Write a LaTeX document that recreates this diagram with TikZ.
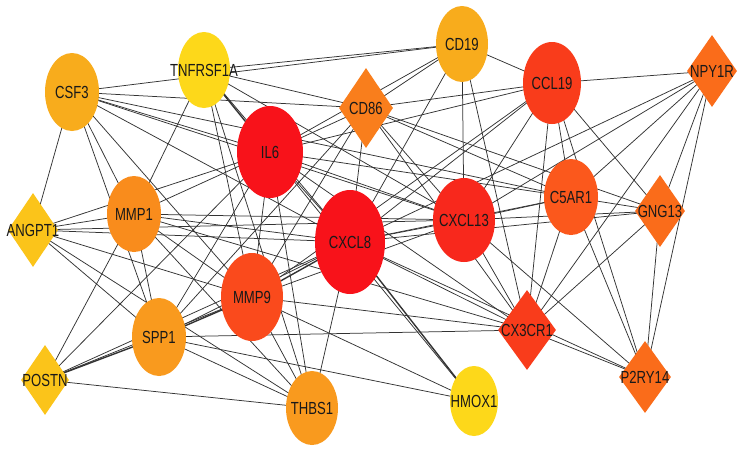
\documentclass[tikz,border=0pt]{standalone}
\usepackage{fontspec}
\setmainfont[FakeStretch=0.75]{Liberation Sans}
\usetikzlibrary{shapes.geometric}
\pgfdeclarelayer{background}
\pgfsetlayers{background,main}
\definecolor{cRed}{HTML}{F8121A}
\definecolor{cRedB}{HTML}{F8281C}
\definecolor{cRedO}{HTML}{F93C1B}
\definecolor{cOrA}{HTML}{FA4A1C}
\definecolor{cOrB}{HTML}{FB581C}
\definecolor{cOrC}{HTML}{FA6C1A}
\definecolor{cOrD}{HTML}{F97E1C}
\definecolor{cOrE}{HTML}{F98C1C}
\definecolor{cOrF}{HTML}{F99A1E}
\definecolor{cOrG}{HTML}{F8AC1C}
\definecolor{cYelA}{HTML}{FBC41A}
\definecolor{cYelB}{HTML}{FDD81A}
\tikzset{
  gene/.style={ellipse,inner sep=0pt,draw=none},
  rhomb/.style={diamond,inner sep=0pt,draw=none},
  txt/.style={font=\fontsize{17.5}{17.5}\selectfont, text=black!90},
  edge/.style={draw=black!80,line width=0.75pt},
  thickedge/.style={draw=black!80,line width=1.4pt}
}
\begin{document}
\begin{tikzpicture}[x=1pt,y=-1pt]
\useasboundingbox (0,0) rectangle (742,450);
% nodes
\node[gene,fill=cOrG,minimum width=54,minimum height=78] (CSF3) at (72,92) {};
\node[gene,fill=cYelB,minimum width=52,minimum height=76] (TNF) at (204,70) {};
\node[gene,fill=cRed,minimum width=66,minimum height=92] (IL6) at (270,152) {};
\node[rhomb,fill=cOrD,minimum width=54,minimum height=80] (CD86) at (366,108) {};
\node[gene,fill=cOrG,minimum width=52,minimum height=76] (CD19) at (462,44) {};
\node[gene,fill=cRedO,minimum width=58,minimum height=82] (CCL19) at (552,83) {};
\node[rhomb,fill=cOrC,minimum width=50,minimum height=72] (NPY1R) at (712,71) {};
\node[gene,fill=cOrE,minimum width=54,minimum height=76] (MMP1) at (134,214) {};
\node[rhomb,fill=cYelA,minimum width=50,minimum height=74] (ANGPT1) at (33,230) {};
\node[gene,fill=cOrB,minimum width=54,minimum height=76] (C5AR1) at (571,197) {};
\node[rhomb,fill=cOrC,minimum width=50,minimum height=72] (GNG13) at (660,211) {};
\node[gene,fill=cRedB,minimum width=62,minimum height=84] (CXCL13) at (464,220) {};
\node[gene,fill=cRed,minimum width=70,minimum height=104] (CXCL8) at (350,242) {};
\node[gene,fill=cOrA,minimum width=62,minimum height=88] (MMP9) at (252,297) {};
\node[gene,fill=cOrF,minimum width=54,minimum height=78] (SPP1) at (159,337) {};
\node[rhomb,fill=cYelA,minimum width=48,minimum height=70] (POSTN) at (45,380) {};
\node[gene,fill=cOrF,minimum width=52,minimum height=74] (THBS1) at (312,408) {};
\node[gene,fill=cYelB,minimum width=48,minimum height=70] (HMOX1) at (474,401) {};
\node[rhomb,fill=cRedO,minimum width=58,minimum height=80] (CX3CR1) at (527,330) {};
\node[rhomb,fill=cOrC,minimum width=52,minimum height=72] (P2RY14) at (645,377) {};
% labels
\foreach \n/\t in {CSF3/CSF3,TNF/TNFRSF1A,IL6/IL6,CD86/CD86,CD19/CD19,CCL19/CCL19,NPY1R/NPY1R,MMP1/MMP1,ANGPT1/ANGPT1,C5AR1/C5AR1,GNG13/GNG13,CXCL13/CXCL13,CXCL8/CXCL8,MMP9/MMP9,SPP1/SPP1,POSTN/POSTN,THBS1/THBS1,HMOX1/HMOX1,CX3CR1/CX3CR1,P2RY14/P2RY14}
  \node[txt] (l\n) at (\n.center) {\t};
% edges
\begin{pgfonlayer}{background}
\fill[white] (0,0) rectangle (742,450);
\foreach \a/\b in {
CSF3/CD19,CSF3/CD86,CSF3/IL6,CSF3/CXCL8,CSF3/CXCL13,CSF3/MMP9,CSF3/SPP1,CSF3/MMP1,CSF3/ANGPT1,CSF3/C5AR1,
TNF/CD19,TNF/CD86,TNF/CXCL8,TNF/MMP1,TNF/MMP9,TNF/CXCL13,TNF/THBS1,
IL6/CD86,IL6/CD19,IL6/CCL19,IL6/CXCL13,IL6/C5AR1,IL6/CXCL8,IL6/MMP9,IL6/MMP1,IL6/ANGPT1,IL6/SPP1,IL6/THBS1,IL6/HMOX1,IL6/CX3CR1,IL6/POSTN,
CXCL8/CD86,CXCL8/CD19,CXCL8/CCL19,CXCL8/CXCL13,CXCL8/C5AR1,CXCL8/GNG13,CXCL8/CX3CR1,CXCL8/P2RY14,CXCL8/THBS1,CXCL8/SPP1,CXCL8/MMP1,CXCL8/ANGPT1,CXCL8/POSTN,CXCL8/NPY1R,
CXCL13/CD19,CXCL13/CD86,CXCL13/CCL19,CXCL13/C5AR1,CXCL13/GNG13,CXCL13/CX3CR1,CXCL13/P2RY14,CXCL13/NPY1R,CXCL13/MMP9,CXCL13/MMP1,CXCL13/ANGPT1,
MMP9/MMP1,MMP9/ANGPT1,MMP9/THBS1,MMP9/HMOX1,MMP9/CX3CR1,MMP9/POSTN,MMP9/CD86,MMP9/CCL19,
SPP1/MMP1,SPP1/ANGPT1,SPP1/THBS1,SPP1/CX3CR1,SPP1/CD86,SPP1/HMOX1,
POSTN/THBS1,POSTN/MMP1,THBS1/MMP1,THBS1/ANGPT1,
CX3CR1/CCL19,CX3CR1/C5AR1,CX3CR1/GNG13,CX3CR1/NPY1R,CX3CR1/P2RY14,CX3CR1/CD86,CX3CR1/CD19,
C5AR1/CCL19,C5AR1/GNG13,C5AR1/NPY1R,C5AR1/P2RY14,C5AR1/CD86,
CD86/CD19,CD86/CCL19,CD86/GNG13,CD19/CCL19,CCL19/NPY1R,CCL19/GNG13,CCL19/P2RY14,
NPY1R/GNG13,NPY1R/P2RY14,GNG13/P2RY14,MMP1/ANGPT1,MMP1/CX3CR1}
  \draw[edge] (\a.center) -- (\b.center);
\foreach \a/\b in {TNF/IL6,CXCL8/MMP9,MMP9/SPP1,SPP1/POSTN,CXCL8/HMOX1}
  \draw[thickedge] (\a.center) -- (\b.center);
\end{pgfonlayer}
\end{tikzpicture}
\end{document}
